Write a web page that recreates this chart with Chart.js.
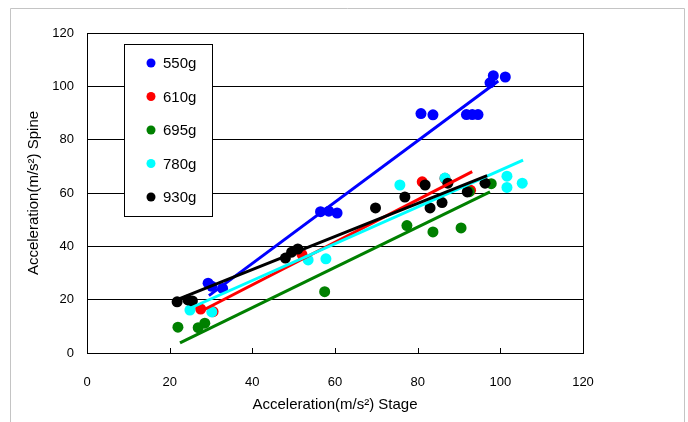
<!DOCTYPE html>
<html>
<head>
<meta charset="utf-8">
<script src="https://cdn.jsdelivr.net/npm/chart.js@4"></script>
<style>
  html, body { margin: 0; padding: 0; background: #fff; }
  #wrap { width: 688px; height: 422px; }
</style>
</head>
<body>
<div id="wrap"><canvas id="chart" width="688" height="422"></canvas></div>
<script>
// series names / colours
const seriesNames = ['550g', '610g', '695g', '780g', '930g'];
const seriesColors = ['#0000ff', '#ff0000', '#008000', '#00ffff', '#000000'];

// measured points (stage accel, spine accel)
const x550 = [29.3, 30.2, 32.8, 56.5, 58.5, 60.5, 80.8, 83.7, 91.8, 93.2, 94.6, 97.5, 98.3, 101.2];
const y550 = [26.2, 25.0, 24.2, 53.0, 53.2, 52.5, 89.8, 89.3, 89.4, 89.4, 89.4, 101.3, 104.0, 103.5];
const x610 = [27.5, 30.5, 52.0, 81.1, 86.6, 92.8];
const y610 = [16.5, 15.5, 37.0, 64.2, 65.5, 61.0];
const x695 = [22.0, 26.9, 28.5, 57.5, 77.4, 83.7, 90.5, 92.5, 97.8];
const y695 = [9.7, 9.5, 11.2, 23.0, 47.8, 45.4, 46.9, 60.5, 63.5];
const x780 = [24.9, 30.2, 53.5, 57.8, 75.7, 86.6, 101.6, 101.6, 105.3];
const y780 = [16.1, 15.4, 34.9, 35.3, 63.0, 65.6, 66.3, 62.1, 63.7];
const x930 = [21.8, 24.4, 25.5, 48.0, 49.5, 51.0, 69.8, 76.9, 81.8, 83.0, 85.9, 87.3, 92.0, 96.3];
const y930 = [19.2, 19.9, 19.5, 35.6, 37.8, 39.0, 54.4, 58.5, 63.0, 54.4, 56.4, 63.7, 60.4, 63.7];

// trend line end points
const trendX = [[29.5, 99.5], [27.0, 93.2], [22.5, 97.5], [24.5, 105.5], [21.5, 96.8]];
const trendY = [[21.5, 102.0], [15.2, 68.0], [3.8, 60.4], [16.5, 72.3], [19.8, 66.5]];

const axisTicks = [0, 20, 40, 60, 80, 100, 120];

const xs = [x550, x610, x695, x780, x930];
const ys = [y550, y610, y695, y780, y930];

function toPoints(xa, ya) {
    return xa.map((v, i) => ({ x: v, y: ya[i] }));
}

const datasets = [];
seriesNames.forEach((name, i) => {
    datasets.push({
        label: name,
        data: toPoints(xs[i], ys[i]),
        backgroundColor: seriesColors[i],
        borderColor: seriesColors[i],
        pointRadius: 5.5,
        pointBorderWidth: 0,
        showLine: false,
        order: 20 - i
    });
});
seriesNames.forEach((name, i) => {
    datasets.push({
        label: name + ' trend',
        data: toPoints(trendX[i], trendY[i]),
        borderColor: seriesColors[i],
        borderWidth: 3,
        pointRadius: 0,
        showLine: true,
        fill: false,
        order: 10 - i
    });
});

// outer light frame, plot box, inward ticks, legend box
const framePlugin = {
    id: 'frame',
    beforeDraw(chart) {
        const ctx = chart.ctx;
        ctx.save();
        ctx.fillStyle = '#fff';
        ctx.fillRect(0, 0, chart.width, chart.height);
        ctx.strokeStyle = '#c4c4c4';
        ctx.lineWidth = 1;
        ctx.beginPath();
        ctx.moveTo(10.5, 422);
        ctx.lineTo(10.5, 8.5);
        ctx.lineTo(684.5, 8.5);
        ctx.lineTo(684.5, 422);
        ctx.stroke();
        ctx.restore();
    },
    afterDatasetsDraw(chart) {
        const ctx = chart.ctx;
        const a = chart.chartArea;
        const xs = chart.scales.x;
        ctx.save();
        ctx.strokeStyle = '#000';
        ctx.lineWidth = 1;
        ctx.strokeRect(Math.round(a.left) + 0.5, Math.round(a.top) + 0.5,
            Math.round(a.right - a.left), Math.round(a.bottom - a.top));
        ctx.beginPath();
        axisTicks.forEach(t => {
            const px = Math.round(xs.getPixelForValue(t)) + 0.5;
            ctx.moveTo(px, a.bottom);
            ctx.lineTo(px, a.bottom - 5);
        });
        ctx.stroke();

        const lx = 124, ly = 44, lw = 88, lh = 172;
        ctx.fillStyle = '#fff';
        ctx.fillRect(lx, ly, lw, lh);
        ctx.strokeRect(lx + 0.5, ly + 0.5, lw, lh);
        ctx.font = '15px "Liberation Sans", Arial, sans-serif';
        ctx.textBaseline = 'middle';
        ctx.textAlign = 'left';
        seriesNames.forEach((name, i) => {
            const cy = 63 + i * 33.5;
            ctx.fillStyle = seriesColors[i];
            ctx.beginPath();
            ctx.arc(151, cy, 4.5, 0, Math.PI * 2);
            ctx.fill();
            ctx.fillStyle = '#000';
            ctx.fillText(name, 163, cy + 1);
        });
        ctx.restore();
    }
};

const ctx = document.getElementById('chart').getContext('2d');
const chart = new Chart(ctx, {
    type: 'scatter',
    data: { datasets: datasets },
    options: {
        responsive: false,
        animation: false,
        layout: { padding: { left: 10, top: 33, right: 105, bottom: 0 } },
        plugins: {
            legend: { display: false },
            tooltip: { enabled: false }
        },
        scales: {
            x: {
                type: 'linear',
                min: 0,
                max: 120,
                afterFit: s => { s.height = 69; },
                afterBuildTicks: s => { s.ticks = axisTicks.map(v => ({ value: v })); },
                grid: { display: false, drawTicks: false },
                border: { display: false },
                ticks: {
                    padding: 22,
                    color: '#000',
                    font: { family: '"Liberation Sans", Arial, sans-serif', size: 13 }
                },
                title: {
                    display: true,
                    text: 'Acceleration(m/s²) Stage',
                    color: '#000',
                    padding: { top: 0, bottom: 8 },
                    font: { family: '"Liberation Sans", Arial, sans-serif', size: 15 }
                }
            },
            y: {
                type: 'linear',
                min: 0,
                max: 120,
                afterFit: s => { s.width = 77; },
                afterBuildTicks: s => { s.ticks = axisTicks.map(v => ({ value: v })); },
                grid: { color: '#000', lineWidth: 1, drawTicks: false },
                border: { display: false },
                ticks: {
                    padding: 13,
                    color: '#000',
                    font: { family: '"Liberation Sans", Arial, sans-serif', size: 13 }
                },
                title: {
                    display: true,
                    text: 'Acceleration(m/s²) Spine',
                    color: '#000',
                    padding: { top: 15, bottom: 0 },
                    font: { family: '"Liberation Sans", Arial, sans-serif', size: 15 }
                }
            }
        }
    },
    plugins: [framePlugin]
});
</script>
</body>
</html>
